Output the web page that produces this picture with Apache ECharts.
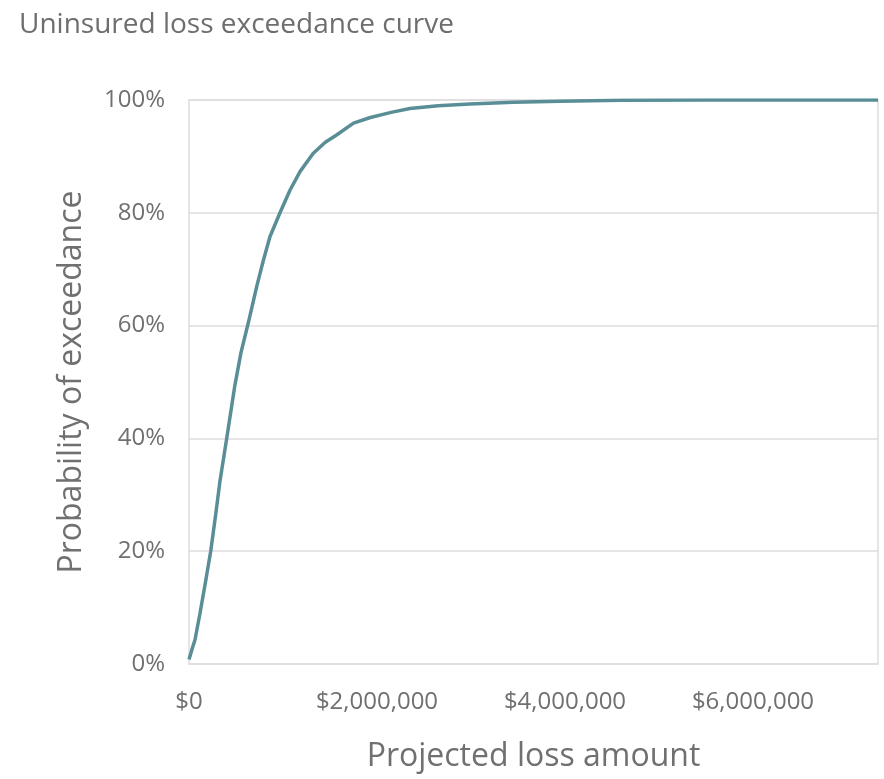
<!DOCTYPE html>
<html>
<head>
<meta charset="utf-8">
<script src="https://cdn.jsdelivr.net/npm/echarts@6/dist/echarts.min.js"></script>
<style>
  html, body { margin: 0; padding: 0; background: #ffffff; }
  #chart { width: 884px; height: 779px; }
</style>
</head>
<body>
<div id="chart"></div>
<script>
// Projected loss amounts ($) and the matching exceedance probabilities (%)
const lossAmounts = [
  0, 30000, 64000, 117000, 170000, 231000, 280000, 330000, 401000, 489000,
  553000, 631000, 720000, 790000, 862000, 968000, 1074000, 1181000, 1320000,
  1450000, 1570000, 1750000, 1930000, 2150000, 2350000, 2650000, 2990000,
  3450000, 3950000, 4600000, 5500000, 6500000, 7330000
];
const exceedance = [
  0.8, 2.5, 4.3, 9, 14, 20, 26, 32.5, 40, 49.5,
  55.2, 60.5, 66.9, 71.5, 75.8, 80, 84, 87.3, 90.5,
  92.5, 93.8, 95.9, 96.9, 97.8, 98.5, 99.0, 99.3,
  99.6, 99.8, 99.95, 100, 100, 100
];
const yTicks = [0, 20, 40, 60, 80, 100];

const FONT = '"Segoe UI", "Open Sans", "Noto Sans", sans-serif';
const curve = lossAmounts.map((x, i) => [x, exceedance[i]]);

const chart = echarts.init(document.getElementById('chart'), null, { renderer: 'canvas' });
chart.setOption({
  animation: false,
  backgroundColor: '#ffffff',
  title: {
    text: 'Uninsured loss exceedance curve',
    left: 19, top: 11,
    padding: 0,
    textStyle: { color: '#6e6e6e', fontFamily: FONT, fontSize: 28, fontWeight: 'normal' }
  },
  grid: {
    left: 189, right: 6, top: 100, bottom: 115,
    show: true, borderColor: '#dddddd', borderWidth: 1.5
  },
  xAxis: {
    type: 'value',
    min: 0, max: 7330000, interval: 2000000,
    name: 'Projected loss amount',
    nameLocation: 'middle', nameGap: 77,
    nameTextStyle: { color: '#707070', fontFamily: FONT, fontSize: 32 },
    axisLine: { show: false },
    axisTick: { show: false },
    splitLine: { show: false },
    axisLabel: {
      color: '#707070', fontFamily: FONT, fontSize: 24, margin: 26,
      showMaxLabel: false,
      formatter: v => '$' + v.toLocaleString('en-US')
    }
  },
  yAxis: {
    type: 'value',
    min: yTicks[0], max: yTicks[yTicks.length - 1], interval: 20,
    name: 'Probability of exceedance',
    nameLocation: 'middle', nameGap: 101,
    nameTextStyle: { color: '#707070', fontFamily: FONT, fontSize: 32 },
    axisLine: { show: false },
    axisTick: { show: false },
    splitLine: { show: true, lineStyle: { color: '#dddddd', width: 1.5 } },
    axisLabel: {
      color: '#707070', fontFamily: FONT, fontSize: 24, margin: 24,
      formatter: '{value}%'
    }
  },
  series: [{
    type: 'line',
    data: curve,
    showSymbol: false,
    smooth: false,
    lineStyle: { color: '#5a8e97', width: 3.5 },
    itemStyle: { color: '#5a8e97' }
  }]
});
</script>
</body>
</html>
